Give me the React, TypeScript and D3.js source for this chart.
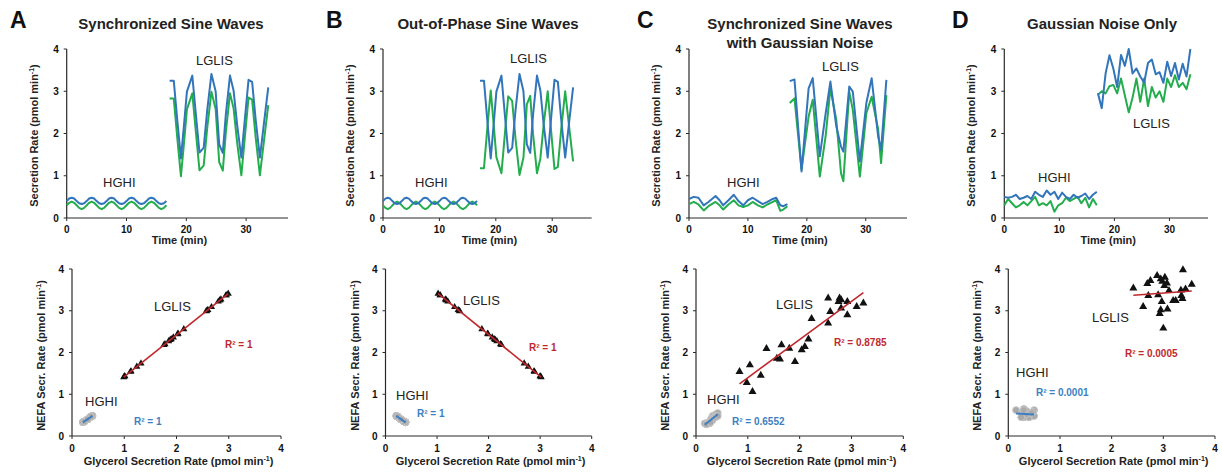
import React from 'react';
import * as d3 from 'd3';

// ---- time series data (blue = NEFA, green = glycerol) ----
const hghiTimeSine = [0, 0.42, 0.83, 1.25, 1.67, 2.08, 2.5, 2.92, 3.33, 3.75, 4.17, 4.58, 5, 5.42, 5.83, 6.25, 6.67, 7.08, 7.5, 7.92, 8.33, 8.75, 9.17, 9.58, 10, 10.42, 10.83, 11.25, 11.67, 12.08, 12.5, 12.92, 13.33, 13.75, 14.17, 14.58, 15, 15.42, 15.83, 16.25, 16.67];
const lglisTimeSine = [17.2, 17.9, 18.5, 19.1, 19.6, 20.1, 21.0, 21.6, 22.2, 22.9, 23.5, 24.2, 24.9, 25.5, 26.1, 26.6, 27.3, 27.9, 28.5, 29.2, 29.8, 30.4, 31.0, 31.6, 32.3, 33.0, 33.7];

const aHghiNefa = [0.40, 0.46, 0.48, 0.46, 0.40, 0.35, 0.33, 0.35, 0.40, 0.46, 0.48, 0.46, 0.40, 0.35, 0.33, 0.35, 0.40, 0.46, 0.48, 0.46, 0.40, 0.35, 0.33, 0.35, 0.40, 0.46, 0.48, 0.46, 0.40, 0.35, 0.33, 0.35, 0.40, 0.46, 0.48, 0.46, 0.40, 0.35, 0.33, 0.35, 0.40];
const aHghiGly = [0.30, 0.36, 0.39, 0.36, 0.30, 0.24, 0.21, 0.24, 0.30, 0.36, 0.39, 0.36, 0.30, 0.24, 0.21, 0.24, 0.30, 0.36, 0.39, 0.36, 0.30, 0.24, 0.21, 0.24, 0.30, 0.36, 0.39, 0.36, 0.30, 0.24, 0.21, 0.24, 0.30, 0.36, 0.39, 0.36, 0.30, 0.24, 0.21, 0.24, 0.30];
const sineLglisNefa = [3.25, 3.25, 2.30, 1.41, 2.18, 2.99, 3.37, 2.45, 1.55, 1.66, 2.56, 3.41, 3.00, 1.74, 1.54, 2.44, 3.37, 3.02, 2.20, 1.43, 2.36, 3.27, 3.22, 2.32, 1.43, 2.27, 3.09];
const aLglisGly = [2.83, 2.83, 1.88, 0.99, 1.76, 2.57, 2.95, 2.03, 1.13, 1.24, 2.14, 2.99, 2.58, 1.32, 1.12, 2.02, 2.95, 2.60, 1.78, 1.01, 1.94, 2.85, 2.80, 1.90, 1.01, 1.85, 2.67];

const bHghiNefa = [0.40, 0.46, 0.48, 0.46, 0.40, 0.35, 0.33, 0.35, 0.40, 0.46, 0.48, 0.46, 0.40, 0.35, 0.33, 0.35, 0.40, 0.46, 0.48, 0.46, 0.40, 0.35, 0.33, 0.35, 0.40, 0.46, 0.48, 0.46, 0.40, 0.35, 0.33, 0.35, 0.40, 0.46, 0.48, 0.46, 0.40, 0.35, 0.33, 0.35, 0.40];
const bHghiGly = [0.30, 0.24, 0.21, 0.24, 0.30, 0.36, 0.39, 0.36, 0.30, 0.24, 0.21, 0.24, 0.30, 0.36, 0.39, 0.36, 0.30, 0.24, 0.21, 0.24, 0.30, 0.36, 0.39, 0.36, 0.30, 0.24, 0.21, 0.24, 0.30, 0.36, 0.39, 0.36, 0.30, 0.24, 0.21, 0.24, 0.30, 0.36, 0.39, 0.36, 0.30];
const bLglisGly = [1.18, 1.18, 2.13, 3.02, 2.25, 1.44, 1.06, 1.98, 2.88, 2.77, 1.87, 1.02, 1.43, 2.69, 2.89, 1.99, 1.06, 1.41, 2.23, 3.00, 2.07, 1.16, 1.21, 2.11, 3.00, 2.16, 1.34];

const cHghiTime = [0, 0.8, 1.6, 2.5, 3.3, 4.5, 5.2, 5.8, 6.7, 7.6, 8.4, 9.2, 10, 10.8, 11.7, 12.5, 13.3, 14.2, 14.8, 15.5, 16, 16.7];
const cHghiNefa = [0.45, 0.50, 0.48, 0.30, 0.38, 0.52, 0.42, 0.30, 0.42, 0.55, 0.40, 0.30, 0.42, 0.48, 0.40, 0.33, 0.38, 0.45, 0.48, 0.30, 0.28, 0.33];
const cHghiGly = [0.33, 0.38, 0.32, 0.18, 0.28, 0.38, 0.30, 0.20, 0.32, 0.42, 0.30, 0.26, 0.30, 0.38, 0.30, 0.25, 0.32, 0.38, 0.42, 0.17, 0.20, 0.28];
const cLglisTime = [17.1, 17.9, 19.1, 20.3, 21.0, 22.2, 23.2, 24.0, 25.0, 25.8, 26.2, 27.2, 27.8, 29.0, 30.1, 31.0, 32.1, 32.6, 33.5];
const cLglisNefa = [3.24, 3.28, 1.10, 3.07, 3.31, 1.46, 2.48, 3.23, 2.17, 1.69, 1.57, 3.11, 2.99, 1.34, 2.72, 3.31, 1.93, 1.61, 3.27];
const cLglisGly = [2.72, 2.83, 1.15, 2.40, 2.80, 0.98, 1.95, 3.07, 2.32, 1.06, 0.87, 2.99, 2.56, 0.98, 2.48, 2.87, 2.10, 1.30, 2.91];

const dHghiTime = [0, 0.7, 1.4, 2.1, 2.8, 3.5, 4.2, 4.9, 5.6, 6.3, 7, 7.7, 8.4, 9.1, 9.8, 10.5, 11.2, 11.9, 12.6, 13.3, 14, 14.7, 15.4, 16.1, 16.8];
const dHghiNefa = [0.50, 0.48, 0.50, 0.55, 0.45, 0.48, 0.52, 0.45, 0.62, 0.55, 0.50, 0.65, 0.55, 0.62, 0.45, 0.60, 0.50, 0.45, 0.55, 0.48, 0.52, 0.58, 0.45, 0.55, 0.62];
const dHghiGly = [0.30, 0.45, 0.35, 0.25, 0.30, 0.38, 0.30, 0.40, 0.50, 0.30, 0.35, 0.30, 0.40, 0.15, 0.30, 0.35, 0.48, 0.40, 0.45, 0.50, 0.35, 0.48, 0.25, 0.45, 0.30];
const dLglisTime = [17, 17.7, 18.4, 19.1, 19.8, 20.5, 21.2, 21.9, 22.6, 23.3, 24, 24.7, 25.4, 26.1, 26.8, 27.5, 28.2, 28.9, 29.6, 30.3, 31, 31.7, 32.4, 33.1, 33.8];
const dLglisNefa = [2.95, 2.60, 3.42, 3.85, 3.54, 3.10, 3.86, 3.60, 4.00, 3.42, 3.54, 3.35, 3.20, 3.67, 3.75, 3.40, 3.45, 3.20, 3.70, 3.36, 3.67, 3.28, 3.65, 3.35, 4.00];
const dLglisGly = [2.92, 3.00, 2.95, 3.12, 3.15, 2.95, 3.30, 2.90, 2.50, 2.85, 3.30, 2.75, 3.30, 2.65, 3.10, 2.85, 3.00, 2.75, 3.30, 3.10, 3.38, 3.10, 3.20, 3.05, 3.40];

// ---- scatter points ----
const cScatterGly = [0.84, 0.98, 1.04, 1.09, 1.25, 1.36, 1.56, 1.62, 1.65, 1.80, 1.91, 2.04, 2.10, 2.17, 2.23, 2.55, 2.55, 2.59, 2.75, 2.77, 2.80, 2.80, 2.92, 2.92, 3.10, 3.23];
const cScatterNefa = [1.54, 1.28, 1.70, 1.06, 1.45, 2.09, 1.86, 1.84, 2.18, 2.10, 1.78, 2.06, 2.14, 2.32, 2.81, 2.70, 3.30, 2.98, 3.22, 3.30, 3.26, 3.06, 3.22, 2.90, 3.10, 3.18];
const dScatterGly = [2.42, 2.61, 2.69, 2.75, 2.88, 2.71, 2.90, 2.95, 2.98, 3.03, 3.02, 3.07, 3.11, 2.97, 2.95, 2.93, 3.08, 3.00, 3.19, 3.24, 3.37, 3.35, 3.34, 3.38, 3.43, 3.55];
const dScatterNefa = [3.54, 3.10, 3.65, 3.72, 3.84, 3.36, 3.38, 3.76, 3.70, 3.80, 3.60, 3.66, 3.48, 3.22, 3.02, 2.93, 3.04, 2.58, 3.24, 3.24, 3.29, 3.36, 3.49, 3.98, 3.52, 3.63];

const timeTicks = [0, 10, 20, 30];
const rateTicks = [0, 1, 2, 3, 4];
const r2Lglis = ['R² = 1', 'R² = 1', 'R² = 0.8785', 'R² = 0.0005'];
const r2Hghi = ['R² = 1', 'R² = 1', 'R² = 0.6552', 'R² = 0.0001'];

const BLUE = '#3275bb';
const GREEN = '#23ad4c';
const RED = '#c0282d';
const RBLUE = '#3d7fc2';
const AXIS = '#2a2a2a';
const FONT = '"Liberation Sans", Arial, sans-serif';

const TOP_Y0 = 218, TOP_Y1 = 49;
const BOT_Y0 = 436, BOT_Y1 = 269;
const TIME_MAX = 37;

type Pt = [number, number];
const zip = (a: number[], b: number[]): Pt[] => a.map((v, i) => [v, b[i]]);

const panels = [
  {
    letter: 'A', letterX: 10, title: ['Synchronized Sine Waves'], titleX: 171,
    top: [66.7, 288], bot: [72, 281],
    hghi: { t: hghiTimeSine, nefa: aHghiNefa, gly: aHghiGly },
    lglis: { t: lglisTimeSine, nefa: sineLglisNefa, gly: aLglisGly },
    scatter: zip(aLglisGly, sineLglisNefa), tri: 22,
    tLab: { l: [196, 65], h: [103, 187] },
    bLab: { l: [154, 311], h: [85, 406], rl: [225, 348], rh: [134, 425] },
  },
  {
    letter: 'B', letterX: 326, title: ['Out-of-Phase Sine Waves'], titleX: 488,
    top: [383, 591.7], bot: [385.5, 591.7],
    hghi: { t: hghiTimeSine, nefa: bHghiNefa, gly: bHghiGly },
    lglis: { t: lglisTimeSine, nefa: sineLglisNefa, gly: bLglisGly },
    scatter: zip(bLglisGly, sineLglisNefa), tri: 22,
    tLab: { l: [510, 63], h: [415, 187] },
    bLab: { l: [463, 305], h: [396, 400], rl: [529, 351], rh: [417, 417] },
  },
  {
    letter: 'C', letterX: 637, title: ['Synchronized Sine Waves', 'with Gaussian Noise'], titleX: 800,
    top: [689, 907], bot: [696, 903.3],
    hghi: { t: cHghiTime, nefa: cHghiNefa, gly: cHghiGly },
    lglis: { t: cLglisTime, nefa: cLglisNefa, gly: cLglisGly },
    scatter: zip(cScatterGly, cScatterNefa), tri: 28,
    tLab: { l: [822, 71], h: [727, 187] },
    bLab: { l: [776, 309], h: [707, 404], rl: [834, 345.5], rh: [732, 425] },
  },
  {
    letter: 'D', letterX: 952, title: ['Gaussian Noise Only'], titleX: 1102,
    top: [1004.3, 1208], bot: [1008.3, 1215],
    hghi: { t: dHghiTime, nefa: dHghiNefa, gly: dHghiGly },
    lglis: { t: dLglisTime, nefa: dLglisNefa, gly: dLglisGly },
    scatter: zip(dScatterGly, dScatterNefa), tri: 28,
    tLab: { l: [1133, 128], h: [1038, 182] },
    bLab: { l: [1092, 322], h: [1016, 377], rl: [1125, 356.5], rh: [1036, 395.5] },
  },
];

// least squares trend line across the x range of the points
function trend(pts: Pt[]): Pt[] {
  const mx = d3.mean(pts, p => p[0])!;
  const my = d3.mean(pts, p => p[1])!;
  const sxy = d3.sum(pts, p => (p[0] - mx) * (p[1] - my));
  const sxx = d3.sum(pts, p => (p[0] - mx) ** 2);
  const k = sxx ? sxy / sxx : 0;
  const [x0, x1] = d3.extent(pts, p => p[0]) as [number, number];
  return [[x0, my + k * (x0 - mx)], [x1, my + k * (x1 - mx)]];
}

const Unit = () => (
  <>
    {'(pmol min'}
    <tspan dy={-4} fontSize={7}>-1</tspan>
    <tspan dy={4}>)</tspan>
  </>
);

function Axes({ x, y, xTicks, yTicks, xLabY }: any) {
  const [xa, xb] = x.range();
  const [ya, yb] = y.range();
  return (
    <g fontFamily={FONT} fontWeight="bold" fontSize={10} fill="#111">
      <line x1={xa} x2={xa} y1={ya} y2={yb} stroke={AXIS} strokeWidth={1.2} />
      <line x1={xa} x2={xb} y1={ya} y2={ya} stroke={AXIS} strokeWidth={1.2} />
      {yTicks.map((v: number) => (
        <g key={'y' + v}>
          <line x1={xa - 3} x2={xa} y1={y(v)} y2={y(v)} stroke={AXIS} />
          <text x={xa - 8} y={y(v) + 3.5} textAnchor="end">{v}</text>
        </g>
      ))}
      {xTicks.map((v: number) => (
        <g key={'x' + v}>
          <line x1={x(v)} x2={x(v)} y1={ya} y2={ya + 3} stroke={AXIS} />
          <text x={x(v)} y={xLabY} textAnchor="middle">{v}</text>
        </g>
      ))}
    </g>
  );
}

function Panel({ p, i }: any) {
  const xt = d3.scaleLinear().domain([0, TIME_MAX]).range(p.top);
  const yt = d3.scaleLinear().domain([0, 4]).range([TOP_Y0, TOP_Y1]);
  const xb = d3.scaleLinear().domain([0, 4]).range(p.bot);
  const yb = d3.scaleLinear().domain([0, 4]).range([BOT_Y0, BOT_Y1]);
  const lineT = d3.line<Pt>().x(d => xt(d[0])).y(d => yt(d[1]));
  const lineB = d3.line<Pt>().x(d => xb(d[0])).y(d => yb(d[1]));
  const tri = d3.symbol(d3.symbolTriangle, p.tri)()!;
  const hghiPts = zip(p.hghi.gly, p.hghi.nefa);
  const tl = 'translate';
  const topMid = (p.top[0] + p.top[1]) / 2 + 2;
  const botMid = (p.bot[0] + p.bot[1]) / 2 + 2;

  return (
    <g>
      <text x={p.letterX} y={28} fontFamily={FONT} fontWeight="bold" fontSize={23} fill="#111">{p.letter}</text>
      {p.title.map((s: string, k: number) => (
        <text key={k} x={p.titleX} y={29 + k * 18.5} textAnchor="middle" fontFamily={FONT} fontWeight="bold" fontSize={15} fill="#222">{s}</text>
      ))}

      {/* time series */}
      <Axes x={xt} y={yt} xTicks={timeTicks} yTicks={rateTicks} xLabY={233} />
      {[p.hghi, p.lglis].map((s: any, k: number) => (
        <g key={k} fill="none" strokeWidth={2} strokeLinejoin="round">
          <path d={lineT(zip(s.t, s.gly))!} stroke={GREEN} />
          <path d={lineT(zip(s.t, s.nefa))!} stroke={BLUE} />
        </g>
      ))}
      <g fontFamily={FONT} fontSize={13} fill="#222">
        <text x={p.tLab.l[0]} y={p.tLab.l[1]}>LGLIS</text>
        <text x={p.tLab.h[0]} y={p.tLab.h[1]}>HGHI</text>
      </g>
      <text x={topMid} y={244} textAnchor="middle" fontFamily={FONT} fontWeight="bold" fontSize={11} fill="#222">Time (min)</text>
      <text transform={`${tl}(${p.top[0] - 29},${(TOP_Y0 + TOP_Y1) / 2 + 2}) rotate(-90)`} textAnchor="middle" fontFamily={FONT} fontWeight="bold" fontSize={11} fill="#222">
        Secretion Rate <Unit />
      </text>

      {/* scatter */}
      <Axes x={xb} y={yb} xTicks={rateTicks} yTicks={rateTicks} xLabY={452} />
      <g>
        {hghiPts.map((d, k) => (
          <circle key={k} cx={xb(d[0])} cy={yb(d[1])} r={3.4} fill="#a9a9a9" stroke="#c4c4c4" strokeWidth={1} />
        ))}
        <path d={lineB(trend(hghiPts))!} stroke={RBLUE} strokeWidth={2} fill="none" />
      </g>
      <g>
        {p.scatter.map((d: Pt, k: number) => (
          <path key={k} d={tri} transform={`${tl}(${xb(d[0])},${yb(d[1])})`} fill="#111" />
        ))}
        <path d={lineB(trend(p.scatter))!} stroke={RED} strokeWidth={1.6} fill="none" />
      </g>
      <g fontFamily={FONT} fontSize={13} fill="#222">
        <text x={p.bLab.l[0]} y={p.bLab.l[1]}>LGLIS</text>
        <text x={p.bLab.h[0]} y={p.bLab.h[1]}>HGHI</text>
      </g>
      <g fontFamily={FONT} fontWeight="bold" fontSize={10}>
        <text x={p.bLab.rl[0]} y={p.bLab.rl[1]} fill={RED}>{r2Lglis[i]}</text>
        <text x={p.bLab.rh[0]} y={p.bLab.rh[1]} fill={RBLUE}>{r2Hghi[i]}</text>
      </g>
      <text x={botMid} y={465} textAnchor="middle" fontFamily={FONT} fontWeight="bold" fontSize={11} fill="#222">
        Glycerol Secretion Rate <Unit />
      </text>
      <text transform={`${tl}(${p.bot[0] - 27},${(BOT_Y0 + BOT_Y1) / 2 + 3}) rotate(-90)`} textAnchor="middle" fontFamily={FONT} fontWeight="bold" fontSize={11} fill="#222">
        NEFA Secr. Rate <Unit />
      </text>
    </g>
  );
}

export default function App() {
  return (
    <svg width={1222} height={473} style={{ position: 'absolute', left: 0, top: 0, background: '#fff' }}>
      <rect width={1222} height={473} fill="#fff" />
      {panels.map((p, i) => <Panel key={p.letter} p={p} i={i} />)}
    </svg>
  );
}
